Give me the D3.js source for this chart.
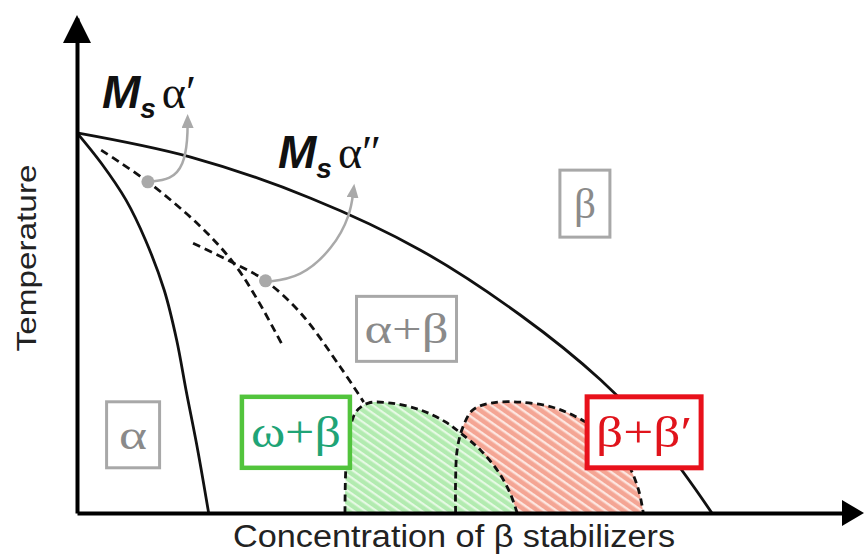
<!DOCTYPE html>
<html><head><meta charset="utf-8">
<script src="https://cdn.jsdelivr.net/npm/d3@7"></script>
<style>body{margin:0;background:#fff;overflow:hidden}</style>
</head><body>
<svg id="c" width="864" height="555"></svg>
<script>
// ---- data (schematic units: concentration 0-100, temperature 0-100) ----
const betaTransus   = [[0,76.8],[14.6,71.9],[30,63.6],[44.1,53.1],[56.9,40],[67.2,26.9],[75,14],[81.5,0]];
const alphaSolvus   = [[0,76.8],[3.1,70.7],[6.3,63.2],[8.8,55.1],[11.2,45.0],[12.8,34.9],[14.0,24.8],[15.5,12.7],[16.9,0]];
const msAlphaPrime  = [[3.1,73.3],[9.1,66.9],[15.9,57.8],[20.1,50.5],[23.2,43.0],[26.5,33.5]];
const msAlphaDouble = [[14.9,54.5],[20.1,50.5],[24.2,46.9],[28.7,40.4],[33.8,29.5],[36.8,22.4]];
const omegaDome     = [[34.4,0],[34.5,8.7],[34.9,15.8],[35.8,20.4],[37.4,22.2],[40.3,22.2],[44.1,20.8],[47.3,18.4],[49.2,16.2],[51.8,12.7],[54.1,8.3],[55.6,4.0],[56.5,0]];
const betaPrimeDome = [[48.6,0],[48.6,6.7],[48.8,12.7],[49.5,17.2],[50.8,20.8],[53.1,22.2],[56.9,22.4],[61.4,21.2],[65.5,18.2],[68.5,14.7],[70.8,9.7],[72.1,4.6],[72.7,0]];
const msPoints      = [[9.1,66.9],[24.2,46.9]];
const msArrows      = [
  [[9.1,66.9],[12.1,67.3],[13.7,70.3],[14.2,75.4],[14.2,79.4]],
  [[24.2,46.7],[28.7,47.5],[32.9,53.5],[35.1,60.2],[35.5,65.3]]
];
const phaseLabels = [
  {text:"α",   x:7.2,  y:15.8, kind:"gray"},
  {text:"ω+β", x:28.1, y:16.3, kind:"green"},
  {text:"β+β′",x:72.8, y:16.3, kind:"red"},
  {text:"α+β", x:42.3, y:37.2, kind:"gray"},
  {text:"β",   x:65.2, y:62.5, kind:"gray"}
];
const msLabels = [
  {prime:"α′", x:3.2,  y:81.8},
  {prime:"α″", x:25.8, y:69.7}
];
const xTitle = "Concentration of β stabilizers";
const yTitle = "Temperature";

// ---- layout ----
const svg = d3.select("#c");
const x = d3.scaleLinear().domain([0,100]).range([77,856]);
const y = d3.scaleLinear().domain([0,100]).range([513,18]);
const line = d3.line().x(d=>x(d[0])).y(d=>y(d[1])).curve(d3.curveCatmullRom.alpha(0.5));

const defs = svg.append("defs");
function hatch(id, bg, fg, w, gap, ang){
  const p = defs.append("pattern").attr("id",id).attr("patternUnits","userSpaceOnUse")
    .attr("width",gap).attr("height",gap).attr("patternTransform",`rotate(${ang})`);
  p.append("rect").attr("width",gap).attr("height",gap).attr("fill",bg);
  p.append("rect").attr("y",0).attr("width",gap).attr("height",w).attr("fill",fg);
}
hatch("gh","#b2ebb0","#e6f9e4",2.2,6.5,35);
hatch("rh","#f4a594","#fde6e0",2.4,7,35);

defs.append("marker").attr("id","ah").attr("markerUnits","userSpaceOnUse")
  .attr("markerWidth",16).attr("markerHeight",16).attr("refX",8).attr("refY",6)
  .attr("orient","auto")
  .append("path").attr("d","M0,0 L14,6 L0,12 Z").attr("fill","#a9a9a9");

// domes (fill)
svg.append("path").attr("d",line(betaPrimeDome)+"Z").attr("fill","url(#rh)");
svg.append("path").attr("d",line(omegaDome)+"Z").attr("fill","url(#gh)");
// dome outlines
[betaPrimeDome, omegaDome].forEach(d=>{
  svg.append("path").attr("d",line(d)).attr("fill","none").attr("stroke","#111")
    .attr("stroke-width",2.8).attr("stroke-dasharray","7,4.5");
});

// solid phase boundaries
[betaTransus, alphaSolvus].forEach(d=>{
  svg.append("path").attr("d",line(d)).attr("fill","none").attr("stroke","#111").attr("stroke-width",2.8);
});
// Ms dashed
[msAlphaPrime, msAlphaDouble].forEach(d=>{
  svg.append("path").attr("d",line(d)).attr("fill","none").attr("stroke","#111")
    .attr("stroke-width",2.8).attr("stroke-dasharray","8,5");
});

// gray arrows
const aLine = d3.line().x(d=>x(d[0])).y(d=>y(d[1])).curve(d3.curveBasis);
msArrows.forEach(d=>{
  svg.append("path").attr("d",aLine(d)).attr("fill","none").attr("stroke","#a9a9a9")
    .attr("stroke-width",2.5).attr("marker-end","url(#ah)");
});
svg.selectAll("circle.ms").data(msPoints).join("circle").attr("class","ms")
  .attr("cx",d=>x(d[0])).attr("cy",d=>y(d[1])).attr("r",6.5).attr("fill","#a9a9a9");

// phase boxes
const boxSize = {"α":[53,66,28],"ω+β":[108,71,90],"β+β′":[114,71,96],"α+β":[100,65,84],"β":[50,67,22]};
const style = {
  gray:{stroke:"#a8a8a8",sw:3,fill:"#8a8a8a",fs:42},
  green:{stroke:"#52c43c",sw:4.5,fill:"#1fa476",fs:44},
  red:{stroke:"#e8111b",sw:5,fill:"#e0141c",fs:44}
};
phaseLabels.forEach(l=>{
  const [w,h,tl] = boxSize[l.text], s = style[l.kind];
  const cx = x(l.x), cy = y(l.y);
  svg.append("rect").attr("x",cx-w/2).attr("y",cy-h/2).attr("width",w).attr("height",h)
    .attr("fill","#fff").attr("stroke",s.stroke).attr("stroke-width",s.sw);
  svg.append("text").attr("x",cx).attr("y",cy).attr("dy","0.34em").attr("text-anchor","middle")
    .attr("font-family","'Liberation Serif','DejaVu Serif',serif").attr("font-size",s.fs)
    .attr("textLength",tl).attr("lengthAdjust","spacingAndGlyphs")
    .attr("fill",s.fill).text(l.text);
});

// Ms labels
msLabels.forEach(l=>{
  const t = svg.append("text").attr("x",x(l.x)).attr("y",y(l.y)).attr("fill","#111");
  t.append("tspan").attr("font-family","'Liberation Sans',Arial,sans-serif").attr("font-weight","bold")
    .attr("font-style","italic").attr("font-size",46).text("M");
  t.append("tspan").attr("font-family","'Liberation Sans',Arial,sans-serif").attr("font-weight","bold")
    .attr("font-style","italic").attr("font-size",28).attr("dy",10).text("s");
  t.append("tspan").attr("font-family","'Liberation Serif','DejaVu Serif',serif")
    .attr("font-size",46).attr("dy",-10).attr("dx",6).text(l.prime);
});

// axes
const xAxis = svg.append("g").attr("transform",`translate(0,${y(0)})`)
  .call(d3.axisBottom(x).tickValues([]).tickSizeOuter(0));
const yAxis = svg.append("g").attr("transform",`translate(${x(0)},0)`)
  .call(d3.axisLeft(y).tickValues([]).tickSizeOuter(0));
[xAxis,yAxis].forEach(g=>g.select(".domain").attr("stroke","#000").attr("stroke-width",4));
svg.append("path").attr("d",`M${x(0)-14},${y(100)+25} L${x(0)},${y(100)-3} L${x(0)+14},${y(100)+25} Z`).attr("fill","#000");
svg.append("path").attr("d",`M${x(100)-14},${y(0)-13} L${x(100)+8},${y(0)} L${x(100)-14},${y(0)+13} Z`).attr("fill","#000");

// titles
svg.append("text").attr("x",454).attr("y",547).attr("text-anchor","middle")
  .attr("font-family","'Liberation Sans',Arial,sans-serif").attr("font-size",31).attr("fill","#222")
  .attr("textLength",442).attr("lengthAdjust","spacingAndGlyphs").text(xTitle);
svg.append("text").attr("transform","translate(36,258) rotate(-90)").attr("text-anchor","middle")
  .attr("font-family","'Liberation Sans',Arial,sans-serif").attr("font-size",28).attr("fill","#222")
  .attr("textLength",187).attr("lengthAdjust","spacingAndGlyphs").text(yTitle);
</script>
</body></html>
